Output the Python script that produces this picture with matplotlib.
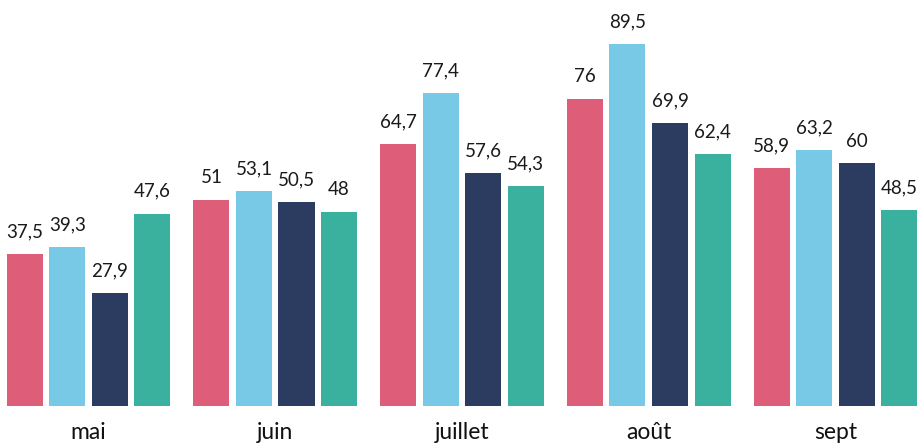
import matplotlib.pyplot as plt
import numpy as np

plt.rcParams['font.family'] = ['Lato', 'DejaVu Sans']

months = ['mai', 'juin', 'juillet', 'août', 'sept']
serie_a = [37.5, 51, 64.7, 76, 58.9]
serie_b = [39.3, 53.1, 77.4, 89.5, 63.2]
serie_c = [27.9, 50.5, 57.6, 69.9, 60]
serie_d = [47.6, 48, 54.3, 62.4, 48.5]
colors = ['#DE5E79', '#77C9E5', '#2C3B60', '#3AB09F']


def fmt(v):
    s = f"{v:g}"
    return s.replace('.', ',')


fig = plt.figure(figsize=(9.2, 4.43), dpi=100)
ax = fig.add_axes([0, 0.0835, 1, 0.9165])

x = np.arange(len(months))
step = 0.2276
width = 0.1928
for i, (vals, col) in enumerate(zip([serie_a, serie_b, serie_c, serie_d], colors)):
    pos = x + (i - 1.5) * step
    ax.bar(pos, vals, width=width, color=col)
    for p, v in zip(pos, vals):
        ax.annotate(fmt(v), (p, v), xytext=(0, 12), textcoords='offset points',
                    ha='center', va='baseline', fontsize=13.5, color='#1a1a1a')

for xi, m in zip(x, months):
    ax.text(xi, -0.04, m, transform=ax.get_xaxis_transform(), ha='center',
            va='top', fontsize=16.5, color='#111111')

ax.set_xlim(-0.4739, 4.4525)
ax.set_ylim(0, 100.4)
ax.axis('off')

fig.savefig('out.png', dpi=100)
